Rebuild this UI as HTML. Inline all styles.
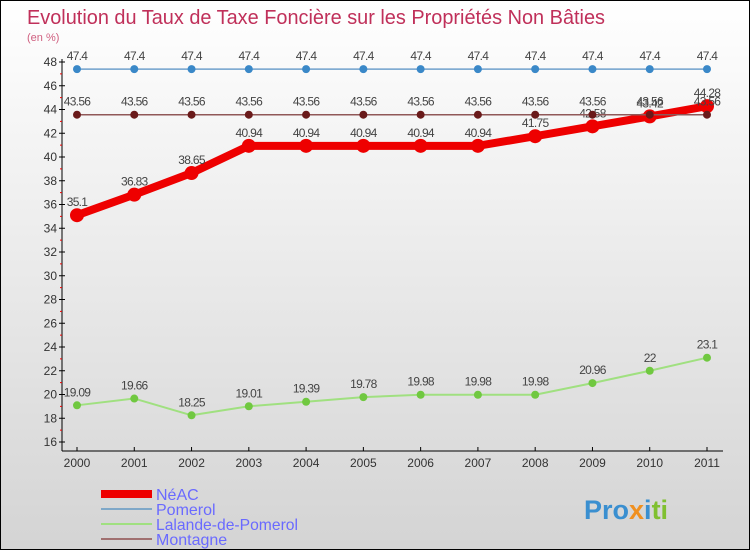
<!DOCTYPE html>
<html><head><meta charset="utf-8"><style>
body{margin:0}
#c{width:750px;height:550px;position:relative;box-sizing:border-box;border:1px solid #000;background:linear-gradient(#ffffff,#d4d4d4);font-family:"Liberation Sans",sans-serif;overflow:hidden}
svg{position:absolute;left:0;top:0}
</style></head><body>
<div id="c">
<svg id="s" width="750" height="550">
<text x="26" y="23" font-size="20" fill="#c0305a" textLength="578" lengthAdjust="spacingAndGlyphs">Evolution du Taux de Taxe Foncière sur les Propriétés Non Bâties</text>
<text x="26" y="40" font-size="11" fill="#d06080">(en %)</text>
<g>
<rect x="100" y="489" width="51" height="8" fill="#e00"/>
<text x="155" y="499" font-size="16" fill="#6a6aff">NéAC</text>
<rect x="100" y="507" width="51" height="2" fill="#7fa8c8"/>
<text x="155" y="514" font-size="16" fill="#6a6aff">Pomerol</text>
<rect x="100" y="522" width="51" height="2" fill="#a0e080"/>
<text x="155" y="529" font-size="16" fill="#6a6aff" textLength="142" lengthAdjust="spacingAndGlyphs">Lalande-de-Pomerol</text>
<rect x="100" y="537" width="51" height="2" fill="#a07070"/>
<text x="155" y="544" font-size="16" fill="#6a6aff">Montagne</text>
</g>
<text x="583" y="518" font-size="27" font-weight="bold" fill="#3a8fd0">Pro<tspan fill="#f09020">x</tspan><tspan fill="#3a8fd0">i</tspan><tspan fill="#80c030">ti</tspan></text>
</svg>
</div>
<script>
const years=[2000,2001,2002,2003,2004,2005,2006,2007,2008,2009,2010,2011];
const neac=[35.1,36.83,38.65,40.94,40.94,40.94,40.94,40.94,41.75,42.58,43.42,44.28];
const pomerol=[47.4,47.4,47.4,47.4,47.4,47.4,47.4,47.4,47.4,47.4,47.4,47.4];
const lalande=[19.09,19.66,18.25,19.01,19.39,19.78,19.98,19.98,19.98,20.96,22,23.1];
const montagne=[43.56,43.56,43.56,43.56,43.56,43.56,43.56,43.56,43.56,43.56,43.56,43.56];
const yTicks=[16,18,20,22,24,26,28,30,32,34,36,38,40,42,44,46,48];
const s=document.getElementById('s');
const NS='http://www.w3.org/2000/svg';
const X=i=>76+i*(706-76)/11;
const Y=v=>441-(v-16)*(380/32);
function mk(t,a){const e=document.createElementNS(NS,t);for(const k in a)e.setAttribute(k,a[k]);s.appendChild(e);return e;}
let ax=mk('line',{x1:61,y1:58,x2:61,y2:450,stroke:'#000','stroke-width':1});


let bx=mk('line',{x1:61,y1:450,x2:722,y2:450,stroke:'#000','stroke-width':1});


yTicks.forEach((v,i)=>{
 const y=Y(v);
 const t=mk('line',{x1:58,y1:y,x2:64,y2:y,stroke:'#000'});
 
 
 const l=mk('text',{x:56,y:y+4,'font-size':12,'text-anchor':'end',fill:'#333'});
 l.textContent=v;
 
 
 if(i<yTicks.length-1){const m=mk('line',{x1:59,y1:Y(v+1),x2:61,y2:Y(v+1),stroke:'#e00'});
 
 }
});
years.forEach((yr,i)=>{
 const t=mk('line',{x1:X(i),y1:446,x2:X(i),y2:450,stroke:'#000'});
 
 
 const l=mk('text',{x:X(i),y:466,'font-size':12,'text-anchor':'middle',fill:'#333'});
 l.textContent=yr;
 
 
});
function series(name,data,col,mcol,w,r){
 const pts=data.map((v,i)=>X(i)+','+Y(v)).join(' ');
 const p=mk('polyline',{points:pts,fill:'none',stroke:col,'stroke-width':w,'stroke-linejoin':'round'});
 
 
 data.forEach((v,i)=>{
  const c=mk('circle',{cx:X(i),cy:Y(v),r:r,fill:mcol});
  
  
  const l=mk('text',{x:X(i),y:Y(v)-9,'font-size':12,'text-anchor':'middle',fill:'#444','letter-spacing':'-0.7'});
  l.textContent=String(v);
  
  
 });
}
series('pomerol',pomerol,'#6fa0cc','#3a88c8',1.5,4);
series('lalande',lalande,'#a0e080','#70c840',2,4);
series('neac',neac,'#ee0000','#ee0000',8,7);
series('montagne',montagne,'#905858','#6a1a1a',1.5,4);
</script>
</body></html>
